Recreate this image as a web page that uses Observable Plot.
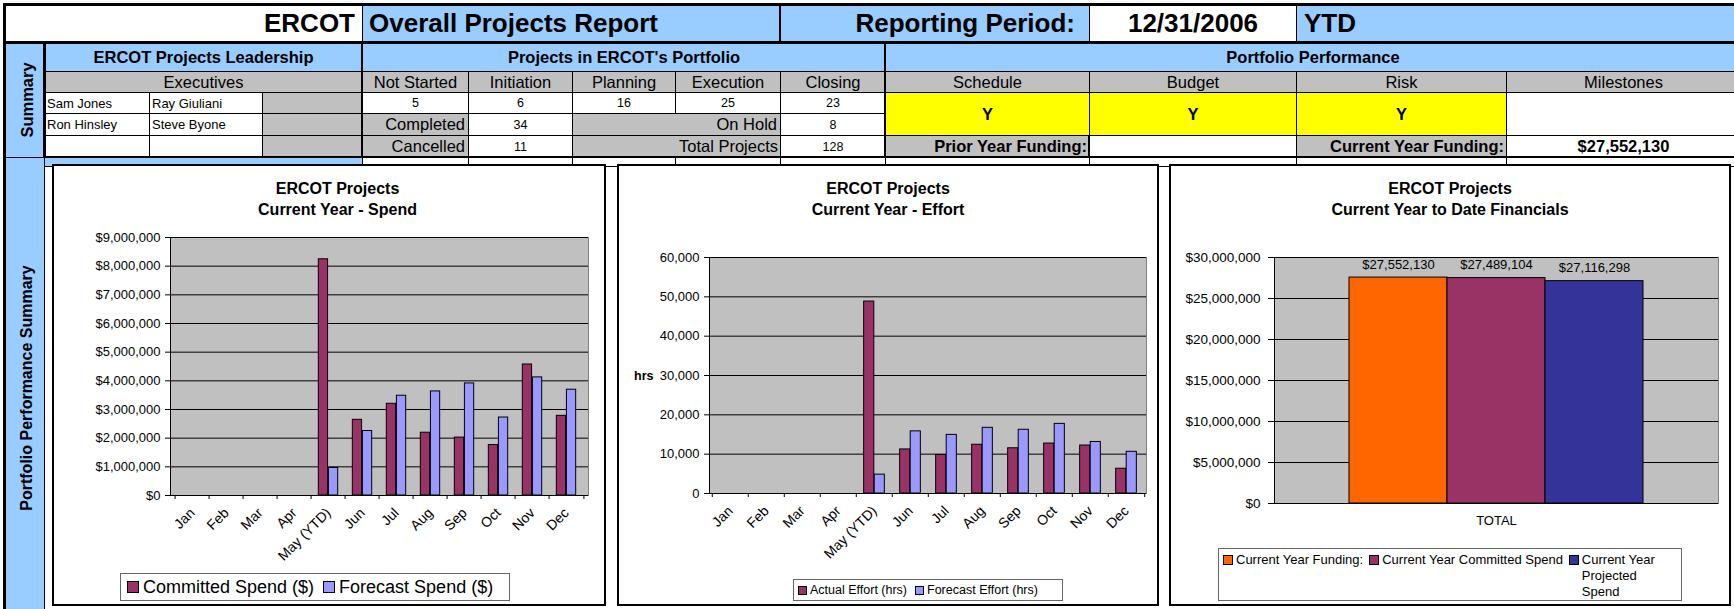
<!DOCTYPE html>
<html><head><meta charset="utf-8">
<script src="https://cdn.jsdelivr.net/npm/d3@7"></script>
<script src="https://cdn.jsdelivr.net/npm/@observablehq/plot@0.6"></script>
<style>
html,body{margin:0;padding:0;background:#fff;}
body{width:1734px;height:609px;position:relative;overflow:hidden;font-family:'Liberation Sans',Arial,sans-serif;}
.c{position:absolute;box-sizing:border-box;border:1px solid #000;display:flex;align-items:center;font-family:'Liberation Sans',Arial,sans-serif;color:#000;white-space:nowrap;overflow:hidden;}
.ln{position:absolute;background:#000;}
.vt{position:absolute;transform:translate(-50%,-50%) rotate(-90deg);white-space:nowrap;font-weight:bold;font-family:'Liberation Sans',Arial,sans-serif;color:#000;}
.box{position:absolute;box-sizing:border-box;border:2px solid #000;background:#fff;}
.title{position:absolute;left:0;right:0;text-align:center;font-weight:bold;font-size:16px;line-height:21px;color:#000;}
.legend{position:absolute;box-sizing:border-box;border:1px solid #666;background:#fff;display:flex;align-items:flex-start;color:#000;}
.legend .it{display:flex;align-items:flex-start;}
.sw{display:inline-block;box-sizing:border-box;border:1px solid #000;flex:none;}
.plot{position:absolute;}
</style></head><body>
<script>
// ---------- data ----------
const months = ["Jan","Feb","Mar","Apr","May (YTD)","Jun","Jul","Aug","Sep","Oct","Nov","Dec"];
const spendSeries = ["Committed Spend ($)", "Forecast Spend ($)"];
const committedSpend = [null,null,null,null,8240000,2640000,3200000,2190000,2020000,1760000,4570000,2780000];
const forecastSpend  = [null,null,null,null, 960000,2250000,3480000,3630000,3910000,2720000,4120000,3690000];
const spendTicks = [0,1000000,2000000,3000000,4000000,5000000,6000000,7000000,8000000,9000000];

const effortSeries = ["Actual Effort (hrs)", "Forecast Effort (hrs)"];
const actualEffort   = [null,null,null,null,48800,11200, 9800,12400,11500,12700,12200, 6300];
const forecastEffort = [null,null,null,null, 4800,15800,14900,16700,16200,17700,13100,10600];
const effortTicks = [0,10000,20000,30000,40000,50000,60000];

const finGroup = "TOTAL";
const finCategories = ["Current Year Funding:", "Current Year Committed Spend", "Current Year Projected Spend"];
const finValues = [27552130, 27489104, 27116298];
const finTicks = [0,5000000,10000000,15000000,20000000,25000000,30000000];

const seriesColors = ["#993366", "#9999FF"];
const finColors = ["#FF6600", "#993366", "#333399"];
const PLOTBG = "#C0C0C0";

// ---------- summary table ----------
const BLUE="#99CCFF", GREY="#C0C0C0", YEL="#FFFF00", WHITE="#FFFFFF";
function cell(x1,x2,y1,y2,bg,text="",o={}){
  const d=document.createElement("div"); d.className="c";
  Object.assign(d.style,{left:x1+"px",top:y1+"px",width:(x2-x1+1)+"px",height:(y2-y1+1)+"px",background:bg,
    justifyContent:o.align||"center",fontSize:(o.size||13)+"px",fontWeight:o.bold?"bold":"normal",
    padding:"0 "+(o.pad==null?3:o.pad)+"px"});
  d.textContent=text; document.body.appendChild(d); return d;
}
function line(x,y,w,h){const d=document.createElement("div");d.className="ln";
  Object.assign(d.style,{left:x+"px",top:y+"px",width:w+"px",height:h+"px"});document.body.appendChild(d);}
function vtext(cx,cy,text,size){const d=document.createElement("div");d.className="vt";
  Object.assign(d.style,{left:cx+"px",top:cy+"px",fontSize:size+"px"});d.textContent=text;document.body.appendChild(d);}

const R=[3,43,71,92,113,135,157,166];
const HS=26, LS=16.5;
// row 1
cell(3,362,R[0],R[1],WHITE,"ERCOT",{align:"flex-end",size:HS,bold:1,pad:7});
cell(362,780,R[0],R[1],BLUE,"Overall Projects Report",{align:"flex-start",size:HS,bold:1,pad:6});
cell(780,1089,R[0],R[1],BLUE,"Reporting Period:",{align:"flex-end",size:HS,bold:1,pad:14});
cell(1089,1296,R[0],R[1],WHITE,"12/31/2006",{size:HS,bold:1});
cell(1296,1740,R[0],R[1],BLUE,"YTD",{align:"flex-start",size:HS,bold:1,pad:7});
// left column
cell(3,44,R[1],R[6],BLUE,"");
cell(3,44,R[6],612,BLUE,"");
vtext(27,100,"Summary",LS);
vtext(27,388,"Portfolio Performance Summary",16);
// row 2
cell(44,362,R[1],R[2],BLUE,"ERCOT Projects Leadership",{size:LS,bold:1});
cell(362,885,R[1],R[2],BLUE,"Projects in ERCOT's Portfolio",{size:LS,bold:1});
cell(885,1740,R[1],R[2],BLUE,"Portfolio Performance",{size:LS,bold:1});
// row 3
cell(44,362,R[2],R[3],GREY,"Executives",{size:LS});
const stageHdr=["Not Started","Initiation","Planning","Execution","Closing"];
const stageX=[362,468,572,675,780,885];
const stageCounts=[5,6,16,25,23];
stageHdr.forEach((t,i)=>cell(stageX[i],stageX[i+1],R[2],R[3],GREY,t,{size:LS}));
const perfHdr=["Schedule","Budget","Risk","Milestones"];
const perfX=[885,1089,1296,1506,1740];
perfHdr.forEach((t,i)=>cell(perfX[i],perfX[i+1],R[2],R[3],GREY,t,{size:LS}));
// row 4
cell(44,149,R[3],R[4],WHITE,"Sam Jones",{align:"flex-start",size:13,pad:2});
cell(149,262,R[3],R[4],WHITE,"Ray Giuliani",{align:"flex-start",size:13,pad:2});
cell(262,362,R[3],R[4],GREY,"");
stageCounts.forEach((v,i)=>cell(stageX[i],stageX[i+1],R[3],R[4],WHITE,String(v),{size:12.5}));
["Y","Y","Y"].forEach((t,i)=>cell(perfX[i],perfX[i+1],R[3],R[5],YEL,t,{size:LS,bold:1}));
cell(1506,1740,R[3],R[5],WHITE,"");
// row 5
cell(44,149,R[4],R[5],WHITE,"Ron Hinsley",{align:"flex-start",size:13,pad:2});
cell(149,262,R[4],R[5],WHITE,"Steve Byone",{align:"flex-start",size:13,pad:2});
cell(262,468,R[4],R[5],GREY,"Completed",{align:"flex-end",size:LS});
cell(468,572,R[4],R[5],WHITE,"34",{size:12.5});
cell(572,780,R[4],R[5],GREY,"On Hold",{align:"flex-end",size:LS});
cell(780,885,R[4],R[5],WHITE,"8",{size:12.5});
// row 6
cell(44,149,R[5],R[6],WHITE,"");
cell(149,262,R[5],R[6],WHITE,"");
cell(262,468,R[5],R[6],GREY,"Cancelled",{align:"flex-end",size:LS});
cell(468,572,R[5],R[6],WHITE,"11",{size:12.5});
cell(572,780,R[5],R[6],GREY,"Total Projects",{align:"flex-end",size:LS,pad:2});
cell(780,885,R[5],R[6],WHITE,"128",{size:12.5});
cell(885,1089,R[5],R[6],GREY,"Prior Year Funding:",{align:"flex-end",size:LS,bold:1,pad:2});
cell(1089,1296,R[5],R[6],WHITE,"");
cell(1296,1506,R[5],R[6],GREY,"Current Year Funding:",{align:"flex-end",size:LS,bold:1,pad:2});
cell(1506,1740,R[5],R[6],WHITE,"$27,552,130",{size:LS,bold:1});
// row 7 (mostly hidden behind charts)
cell(44,362,R[6],R[7],BLUE,"");
[362,468,572,675,780,885,1089,1296,1506].forEach((x,i,a)=>cell(x,a[i+1]||1740,R[6],R[7],WHITE,""));
// thick lines
line(3,3,1740,3); line(3,3,3,606); line(3,41,1740,3); line(44,156,1700,2);
line(43,43,3,114); line(361,43,2,114); line(884,43,2,114); line(779,3,2,40); line(1088,135,2,22);

// ---------- charts ----------
function box(x1,x2,y1,y2,title,tdx=0){
  const d=document.createElement("div"); d.className="box";
  Object.assign(d.style,{left:x1+"px",top:y1+"px",width:(x2-x1)+"px",height:(y2-y1)+"px"});
  const t=document.createElement("div"); t.className="title"; t.style.top="12px"; t.style.left=tdx+"px";
  t.innerHTML=title; d.appendChild(t); document.body.appendChild(d);
}
function place(svg,x,y){const w=document.createElement("div");w.className="plot";
  Object.assign(w.style,{left:x+"px",top:y+"px"});w.appendChild(svg);document.body.appendChild(w);}
function legend(x,y,w,h,labels,colors,o){
  const d=document.createElement("div"); d.className="legend";
  Object.assign(d.style,{left:x+"px",top:y+"px",width:w+"px",height:h+"px",fontSize:o.size+"px",
    lineHeight:o.lh+"px",padding:o.pad,gap:o.gap+"px",fontFamily:"'Liberation Sans',Arial,sans-serif"});
  labels.forEach((l,i)=>{
    const it=document.createElement("div"); it.className="it";
    const s=document.createElement("span"); s.className="sw";
    Object.assign(s.style,{width:o.sw+"px",height:o.sw+"px",background:colors[i],marginTop:((o.lh-o.sw)/2)+"px",marginRight:o.sg+"px"});
    const t=document.createElement("span"); t.textContent=l;
    if(o.maxw && o.maxw[i]) {t.style.whiteSpace="normal"; t.style.width=o.maxw[i]+"px";} else t.style.whiteSpace="nowrap";
    it.appendChild(s); it.appendChild(t); d.appendChild(it);
  });
  document.body.appendChild(d);
}
const baseStyle={fontFamily:"'Liberation Sans', Arial, sans-serif",fontSize:"13px",color:"#000",background:"none",overflow:"visible"};

function monthChart(a,b,ticks,fmt,W,H,mL,mR,mT,mB,extra=[]){
  const bw=(W-mL-mR)/months.length;
  const rows=months.flatMap((m,i)=>[{month:m,s:0,value:a[i]},{month:m,s:1,value:b[i]}]).filter(d=>d.value!=null);
  return Plot.plot({
    width:W,height:H,marginLeft:mL,marginRight:mR,marginTop:mT,marginBottom:mB,style:baseStyle,
    x:{domain:months,padding:0,label:null},
    y:{domain:[ticks[0],ticks[ticks.length-1]],label:null},
    marks:[
      Plot.frame({fill:PLOTBG,stroke:"#808080"}),
      Plot.gridY(ticks,{stroke:"#000",strokeOpacity:1}),
      Plot.barY(rows.filter(d=>d.s===0),{x:"month",y:"value",fill:seriesColors[0],stroke:"#000",insetLeft:0.21*bw,insetRight:0.5*bw}),
      Plot.barY(rows.filter(d=>d.s===1),{x:"month",y:"value",fill:seriesColors[1],stroke:"#000",insetLeft:0.5*bw,insetRight:0.21*bw}),
      Plot.ruleY([ticks[0]],{stroke:"#000"}),
      Plot.frame({anchor:"left",stroke:"#000"}),
      Plot.axisY(ticks,{tickSize:5,tickPadding:5,tickFormat:fmt,label:null}),
      Plot.axisX({tickSize:0,tickRotate:-45,tickPadding:15,label:null,fontSize:14}),
      Plot.axisX(months,{tickSize:4,tickFormat:()=>"",dx:-bw/2,label:null}),
      Plot.axisX([months[months.length-1]],{tickSize:4,tickFormat:()=>"",dx:bw/2,label:null}),
      ...extra
    ]
  });
}

// Chart 1
box(52,606,164,606,"ERCOT Projects<br>Current Year - Spend",17);
place(monthChart(committedSpend,forecastSpend,spendTicks,d=>"$"+d3.format(",")(d),540,340,110,12,7,75),60,230);
legend(120,573,390,28,spendSeries,seriesColors,{size:18,lh:24,pad:"1px 6px",gap:9,sw:12,sg:4});

// Chart 2
box(617,1159,164,606,"ERCOT Projects<br>Current Year - Effort");
place(monthChart(actualEffort,forecastEffort,effortTicks,d3.format(","),530,320,84,9,7,77,
  [Plot.text(["hrs"],{frameAnchor:"left",dx:-56,textAnchor:"end",fontWeight:"bold",fontSize:12.5})]),625,250);
legend(793,579,270,22,effortSeries,seriesColors,{size:12.5,lh:19,pad:"1px 4px",gap:8,sw:9,sg:3});

// Chart 3
box(1169,1731,164,606,"ERCOT Projects<br>Current Year to Date Financials");
const finRows=finCategories.map((c,i)=>({group:finGroup,category:c,value:finValues[i]}));
place(Plot.plot({
  width:550,height:290,marginLeft:99,marginRight:7,marginTop:7,marginBottom:37,style:baseStyle,
  fx:{padding:0,label:null,axis:"bottom",tickSize:0,tickPadding:12},
  x:{domain:finCategories,paddingInner:0,paddingOuter:0.75,axis:null,label:null},
  y:{domain:[finTicks[0],finTicks[finTicks.length-1]],label:null},
  color:{domain:finCategories,range:finColors},
  marks:[
    Plot.frame({fill:PLOTBG,stroke:"#808080"}),
    Plot.gridY(finTicks,{stroke:"#000",strokeOpacity:1}),
    Plot.barY(finRows,{fx:"group",x:"category",y:"value",fill:"category",stroke:"#000"}),
    Plot.text(finRows,{fx:"group",x:"category",y:"value",text:d=>"$"+d3.format(",")(d.value),dy:-13,fontSize:13}),
    Plot.ruleY([0],{stroke:"#000"}),
    Plot.frame({anchor:"left",stroke:"#000"}),
    Plot.axisY(finTicks,{tickSize:6,tickPadding:8,tickFormat:d=>"$"+d3.format(",")(d),label:null,fontSize:13.5})
  ]
}),1175,250);
legend(1218,548,464,53,finCategories,finColors,{size:13,lh:16,pad:"3px 4px",gap:6,sw:10,sg:3,maxw:[0,0,82]});
</script>
</body></html>
